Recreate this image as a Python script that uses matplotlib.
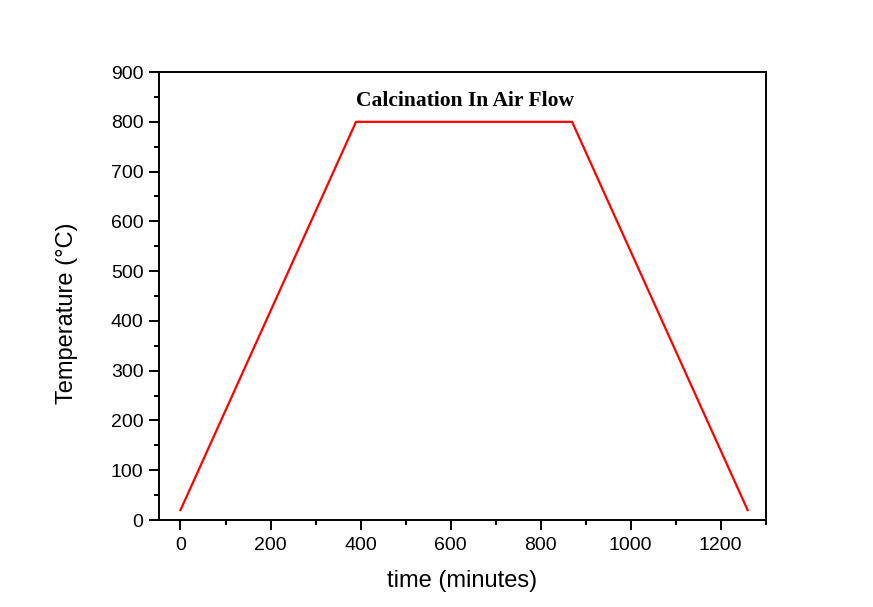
import matplotlib
matplotlib.use("Agg")
import matplotlib.pyplot as plt
from matplotlib.ticker import MultipleLocator

plt.rcParams['font.family'] = ['Liberation Sans', 'DejaVu Sans']

# calcination profile: heat at 2 °C/min, hold, cool
time_min = [0, 390, 870, 1260]
temp_c = [20, 800, 800, 20]

fig = plt.figure(figsize=(8.73, 6.07), dpi=100)
ax = fig.add_axes([0.182, 0.1433, 0.695, 0.738])

ax.plot(time_min, temp_c, color="red", linewidth=1.6)

ax.set_xlim(-48, 1300)
ax.set_ylim(0, 900)
ax.xaxis.set_major_locator(MultipleLocator(200))
ax.xaxis.set_minor_locator(MultipleLocator(100))
ax.yaxis.set_major_locator(MultipleLocator(100))
ax.yaxis.set_minor_locator(MultipleLocator(50))
ax.tick_params(which="both", direction="out", top=False, right=False,
               width=1.4, labelsize=14)
ax.tick_params(which="major", length=7)
ax.tick_params(which="minor", length=3.5)
ax.tick_params(axis="x", which="major", pad=5)
ax.tick_params(axis="y", which="major", pad=4)
for sp in ax.spines.values():
    sp.set_linewidth(1.4)

ax.set_xlabel("time (minutes)", fontsize=17, labelpad=12)
ax.set_ylabel("Temperature (°C)", fontsize=17)
ax.yaxis.set_label_coords(-0.133, 0.461)

ax.text(633, 841, "Calcination In Air Flow", family=["Liberation Serif", "DejaVu Serif"],
        fontsize=15.5, fontweight="bold", ha="center", va="center")

fig.savefig("out.png", dpi=100, facecolor="white")
